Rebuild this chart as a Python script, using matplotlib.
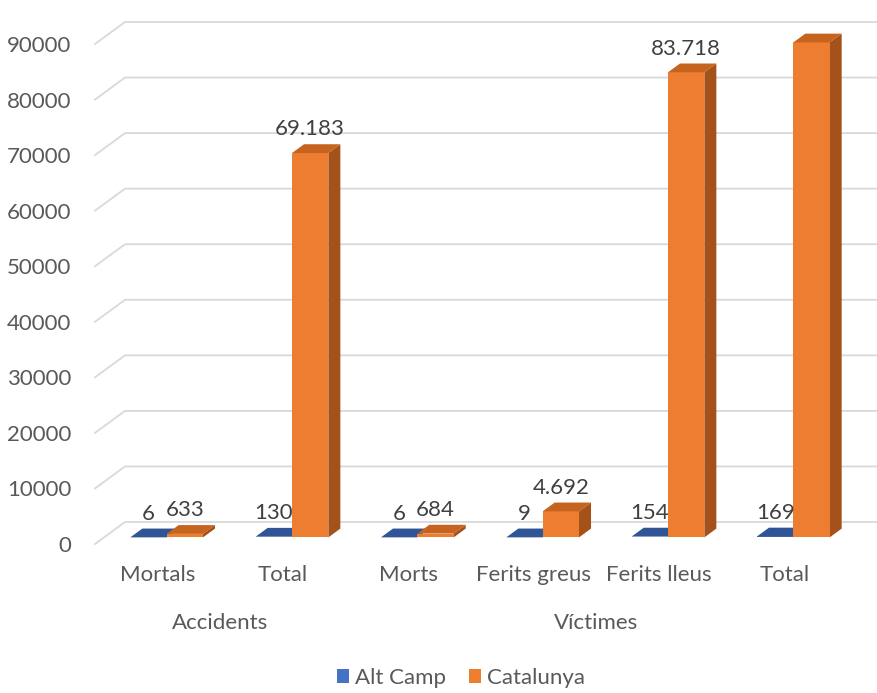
import matplotlib.pyplot as plt
from matplotlib.patches import Polygon, Patch
from matplotlib.transforms import blended_transform_factory

plt.rcParams['font.family'] = ['Lato', 'DejaVu Sans']

categories = ['Mortals', 'Total', 'Morts', 'Ferits greus', 'Ferits lleus', 'Total']
groups = ['Accidents', 'Víctimes']
group_spans = [(0, 1), (2, 5)]
alt_camp = [6, 130, 6, 9, 154, 169]
catalunya = [633, 69183, 684, 4692, 83718, 89094]
series_names = ['Alt Camp', 'Catalunya']
y_ticks = [0, 10000, 20000, 30000, 40000, 50000, 60000, 70000, 80000, 90000]

# face colours: front, top, side
blue = ('#4472C4', '#2F5597', '#2A4C86')
orange = ('#ED7D31', '#C5631F', '#A5511A')
text_col = '#595959'

W, H = 877, 693
fig = plt.figure(figsize=(W / 100, H / 100), dpi=100)
ax = fig.add_axes([95 / W, (H - 544) / H, 752 / W, 500 / H])
ax.set_xlim(-0.5, 5.5)
ax.set_ylim(0, 90000)

# depth of the 3d box in data units (30 px right, 22 px up)
Dx = 30 / 752 * 6
Dy = 22 / 500 * 90000
bar_w = 0.29
z0, z1 = 0.3, 0.7  # bar front/back as a fraction of the depth

for v in y_ticks:
    ax.plot([-0.5, -0.5 + Dx, 5.5 + Dx], [v, v + Dy, v + Dy],
            color='#D9D9D9', lw=1.3, clip_on=False, zorder=1)


def bar3d(xc, val, cols):
    x0 = xc - bar_w / 2 + z0 * Dx
    x1 = xc + bar_w / 2 + z0 * Dx
    yb = z0 * Dy
    yt = val + z0 * Dy
    ddx = (z1 - z0) * Dx
    ddy = (z1 - z0) * Dy
    front = Polygon([(x0, yb), (x1, yb), (x1, yt), (x0, yt)],
                    closed=True, fc=cols[0], ec='none')
    side = Polygon([(x1, yb), (x1 + ddx, yb + ddy), (x1 + ddx, yt + ddy), (x1, yt)],
                   closed=True, fc=cols[2], ec='none')
    top = Polygon([(x0, yt), (x1, yt), (x1 + ddx, yt + ddy), (x0 + ddx, yt + ddy)],
                  closed=True, fc=cols[1], ec='none')
    for p in (side, front, top):
        p.set_clip_on(False)
        p.set_zorder(3)
        ax.add_patch(p)
    lab = f'{val:,}'.replace(',', '.')
    ax.annotate(lab, (xc + z0 * Dx, yt), xytext=(0, 17), textcoords='offset points',
                ha='center', va='center', fontsize=16, color='#404040', zorder=5)


for i in range(len(categories)):
    bar3d(i - bar_w / 2, alt_camp[i], blue)
    bar3d(i + bar_w / 2, catalunya[i], orange)

for s in ax.spines.values():
    s.set_visible(False)
ax.set_yticks(y_ticks)
ax.set_yticklabels([str(v) for v in y_ticks])
ax.set_xticks(range(len(categories)))
ax.set_xticklabels(categories)
ax.tick_params(axis='both', length=0, labelsize=16, labelcolor=text_col)
ax.tick_params(axis='y', pad=17)
ax.tick_params(axis='x', pad=15)

tr = blended_transform_factory(ax.transData, fig.transFigure)
for g, (a, b) in zip(groups, group_spans):
    ax.text((a + b) / 2, (H - 623) / H, g, transform=tr, ha='center', va='center',
            fontsize=16, color=text_col)

handles = [Patch(fc=blue[0], label=series_names[0]),
           Patch(fc=orange[0], label=series_names[1])]
fig.legend(handles=handles, loc='center', bbox_to_anchor=(461 / W, 15 / H), ncol=2,
           frameon=False, fontsize=16, labelcolor=text_col, handlelength=0.55,
           handleheight=0.55, handletextpad=0.3, columnspacing=1.0)

fig.savefig('out.png', dpi=100)
